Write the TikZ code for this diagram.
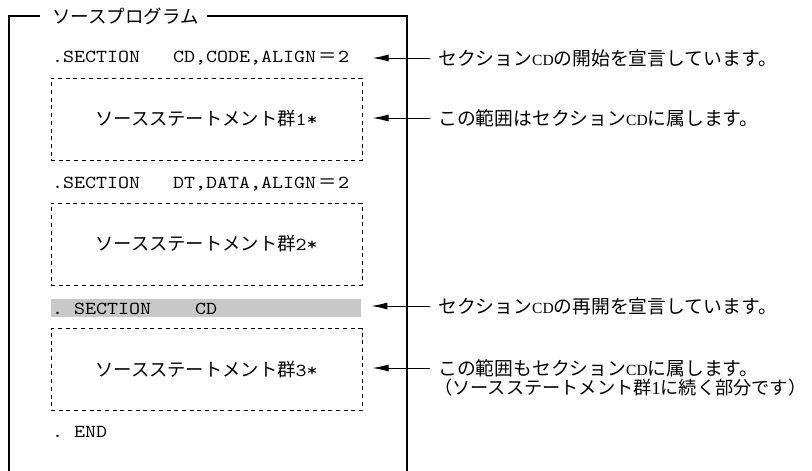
\documentclass[tikz,border=0pt]{standalone}
\usepackage{fontspec}
\setmainfont{Noto Sans CJK JP}
\setmonofont{lmmono10-regular.otf}[FakeStretch=1.145]
\newfontfamily\serf{Liberation Serif}
\usetikzlibrary{arrows.meta}
\definecolor{barg}{RGB}{200,200,200}
\newcommand{\cdtxt}{{\serf\fontsize{15.5}{18}\selectfont CD}}
\newcommand{\fweq}{\makebox[22pt]{\rmfamily\fontsize{18.3}{20}\selectfont ＝}}
\begin{document}
\begin{tikzpicture}[x=1pt,y=-1pt,
  frameline/.style={line width=1.1pt},
  dbox/.style={draw, dash pattern=on 4pt off 3.7pt, line width=1pt,
    minimum width=311pt, minimum height=82pt, inner sep=0pt,
    font=\fontsize{18.3}{22}\selectfont},
  code/.style={anchor=west, inner sep=0pt, font=\fontsize{18.3}{20}\ttfamily},
  jp/.style={anchor=west, inner sep=0pt, font=\fontsize{18.8}{22}\selectfont},
  callout/.style={-{Latex[length=16pt,width=7pt]}, line width=1pt}]
\useasboundingbox (0,0) rectangle (812,471);
% title and frame
\node[jp, font=\fontsize{18.5}{22}\selectfont] (title) at (52,16) {ソースプログラム};
\draw[frameline] ([xshift=-12pt]title.west) -- (9,16) -- (9,472);
\draw[frameline] ([xshift=8pt]title.east) -- (407,16) -- (407,472);
% code lines
\node[code] (l1) at (52,58) {.SECTION~~~CD,CODE,ALIGN\fweq 2};
\node[dbox] (b1) at (206.5,119) {ソースステートメント群{\ttfamily 1*}};
\node[code] (l2) at (52,184) {.SECTION~~~DT,DATA,ALIGN\fweq 2};
\node[dbox] (b2) at (206.5,244) {ソースステートメント群{\ttfamily 2*}};
\node[fill=barg, inner sep=0pt, minimum width=310pt, minimum height=18pt, anchor=west] (bar) at (51,308) {};
\node[code] (l3) at (52,309) {.~SECTION~~~~CD};
\node[dbox] (b3) at (206.5,369.5) {ソースステートメント群{\ttfamily 3*}};
\node[code] (l4) at (52,432) {.~END};
% labels
\node[jp] (c1) at (438,58) {セクション\cdtxt の開始を宣言しています。};
\node[jp] (c2) at (438,118) {この範囲はセクション\cdtxt に属します。};
\node[jp] (c3) at (438,306) {セクション\cdtxt の再開を宣言しています。};
\node[jp] (c4) at (438,368) {この範囲もセクション\cdtxt に属します。};
\node[jp, font=\fontsize{18.2}{22}\selectfont] (c4b) at (434,388) {（ソースステートメント群{\serf 1}に続く部分です）};
% arrows
\draw[callout] ([xshift=-8pt]c1.west) -- ([xshift=10pt]b1.east |- c1.west);
\draw[callout] ([xshift=-8pt]c2.west) -- ([xshift=10pt]b1.east |- c2.west);
\draw[callout] ([xshift=-8pt]c3.west) -- ([xshift=10pt]bar.east |- c3.west);
\draw[callout] ([xshift=-8pt]c4.west) -- ([xshift=10pt]b3.east |- c4.west);
\end{tikzpicture}
\end{document}
